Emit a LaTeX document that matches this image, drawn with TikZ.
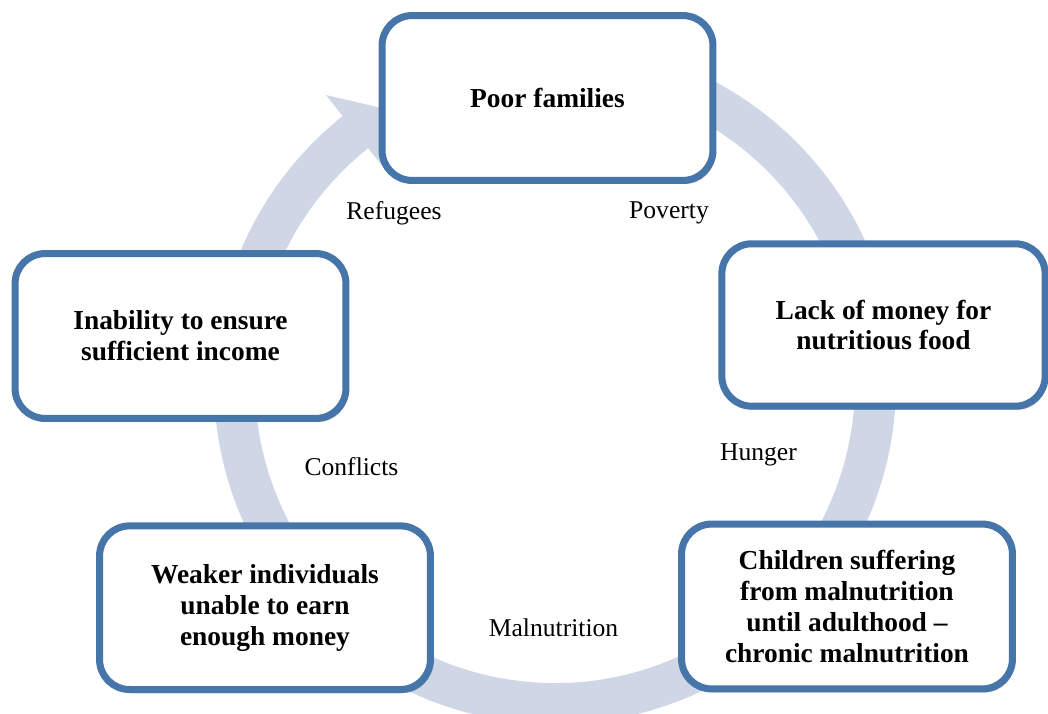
\documentclass[tikz,border=0pt]{standalone}
\usepackage{fontspec}
\setmainfont{Liberation Serif}
\usepackage{tikz}
\usetikzlibrary{calc,shadows}
\definecolor{cbord}{HTML}{4675AA}
\definecolor{cring}{HTML}{CFD7E7}

\begin{document}
\begin{tikzpicture}[x=0.025cm,y=0.025cm,
    stage/.style={draw=cbord,line width=5pt,fill=white,rounded corners=0.75cm,
      minimum width=8.27cm,minimum height=4.12cm,align=center,
      font=\fontsize{19.5}{22}\selectfont\bfseries,
      drop shadow={shadow xshift=1.5pt,shadow yshift=-2.5pt,opacity=0.3,fill=black}},
    cause/.style={font=\fontsize{18.2}{20}\selectfont}]
    \useasboundingbox (0,0) rectangle (1048,713);
    \coordinate (mid) at (555,330);
    \fill[cring] ($(mid)+(90:8.525cm)$) arc[start angle=90,end angle=-231.5,radius=8.525cm]
      -- ($(mid)+(128.5:9.2cm)$) -- ($(mid)+(121:7.95cm)$) -- ($(mid)+(128.5:6.85cm)$)
      -- ($(mid)+(128.5:7.5cm)$) arc[start angle=-231.5,end angle=90,radius=7.5cm] -- cycle;
    \node[stage] (poor) at (547.5,615) {Poor families};
    \node[stage,minimum width=8.08cm,minimum height=4.06cm] (lack) at (883.5,388) {Lack of money for\\nutritious food};
    \node[stage] (child) at (847,106.5) {Children suffering\\from malnutrition\\until adulthood --\\chronic malnutrition};
    \node[stage,minimum height=4.09cm] (weak) at (265,105.3) {Weaker individuals\\unable to earn\\enough money};
    \node[stage] (inab) at (180.5,377) {Inability to ensure\\sufficient income};
    \node[cause] (pov) at (669,500) {Poverty};
    \node[cause] (hung) at (758.5,258) {Hunger};
    \node[cause] (maln) at (553.5,85) {Malnutrition};
    \node[cause] (conf) at (351.5,246) {Conflicts};
    \node[cause] (refu) at (394,500) {Refugees};
  \end{tikzpicture}
\end{document}
